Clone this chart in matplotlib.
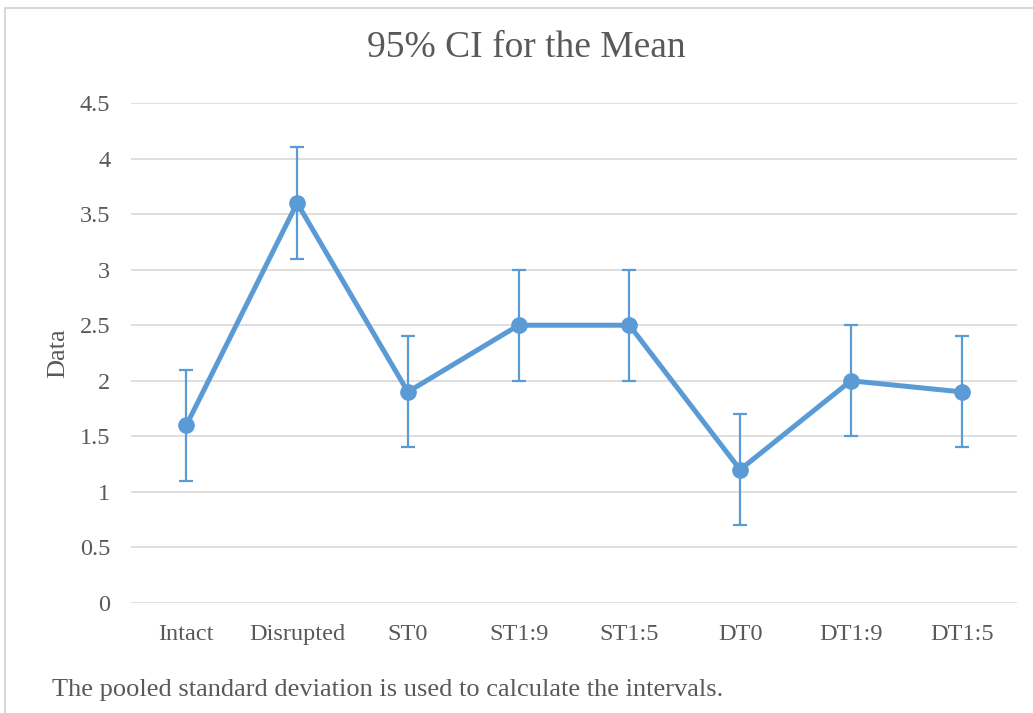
#!/usr/bin/env python3

import matplotlib
matplotlib.use("Agg")
import matplotlib.pyplot as plt
from matplotlib.lines import Line2D

categories = ["Intact", "Disrupted", "ST0", "ST1:9", "ST1:5", "DT0", "DT1:9", "DT1:5"]
means = [1.6, 3.6, 1.9, 2.5, 2.5, 1.2, 2.0, 1.9]
half_width = [0.5, 0.5, 0.5, 0.5, 0.5, 0.5, 0.5, 0.5]
y_ticks = [0, 0.5, 1, 1.5, 2, 2.5, 3, 3.5, 4, 4.5]
y_tick_labels = ["0", "0.5", "1", "1.5", "2", "2.5", "3", "3.5", "4", "4.5"]

BLUE = "#5B9BD5"
TEXT = "#595959"
GRID = "#D9D9D9"


def main():
    plt.rcParams["font.family"] = ["Liberation Serif", "DejaVu Serif"]

    fig = plt.figure(figsize=(10.33, 7.13), dpi=100)
    ax = fig.add_axes([131 / 1033, 1 - 603 / 713, (1017 - 131) / 1033, 500 / 713])

    x = list(range(len(categories)))
    ax.errorbar(x, means, yerr=half_width, color=BLUE, ecolor=BLUE,
                elinewidth=1.6, capsize=5, capthick=1.6, fmt="none", zorder=2)
    ax.plot(x, means, color=BLUE, linewidth=3.6, marker="o", markersize=11,
            solid_joinstyle="round", zorder=3)

    ax.set_xlim(-0.5, len(categories) - 0.5)
    ax.set_ylim(0, 4.5)
    ax.set_yticks(y_ticks)
    ax.set_yticklabels(y_tick_labels)
    ax.set_xticks(x)
    ax.set_xticklabels(categories)
    ax.tick_params(axis="both", length=0, labelsize=17.5, labelcolor=TEXT)
    ax.tick_params(axis="y", pad=15)
    ax.tick_params(axis="x", pad=15)
    ax.grid(axis="y", color=GRID, linewidth=1.2)
    ax.set_axisbelow(True)
    for s in ax.spines.values():
        s.set_visible(False)

    ax.set_ylabel("Data", fontsize=19, color=TEXT)
    ax.yaxis.set_label_coords(-62 / 886, 0.5)

    fig.text(526 / 1033, 1 - 48 / 713, "95% CI for the Mean", fontsize=27,
             color=TEXT, ha="center", va="center")
    fig.text(52 / 1033, 1 - 690 / 713,
             "The pooled standard deviation is used to calculate the intervals.",
             fontsize=19, color=TEXT, ha="left", va="center")

    # chart border
    fig.add_artist(Line2D([5 / 1033, 5 / 1033], [0, 1 - 8 / 713], transform=fig.transFigure,
                          color=GRID, linewidth=1.5))
    fig.add_artist(Line2D([5 / 1033, 1], [1 - 8 / 713, 1 - 8 / 713], transform=fig.transFigure,
                          color=GRID, linewidth=1.5))

    fig.savefig("out.png", dpi=100, facecolor="white")


if __name__ == "__main__":
    main()
